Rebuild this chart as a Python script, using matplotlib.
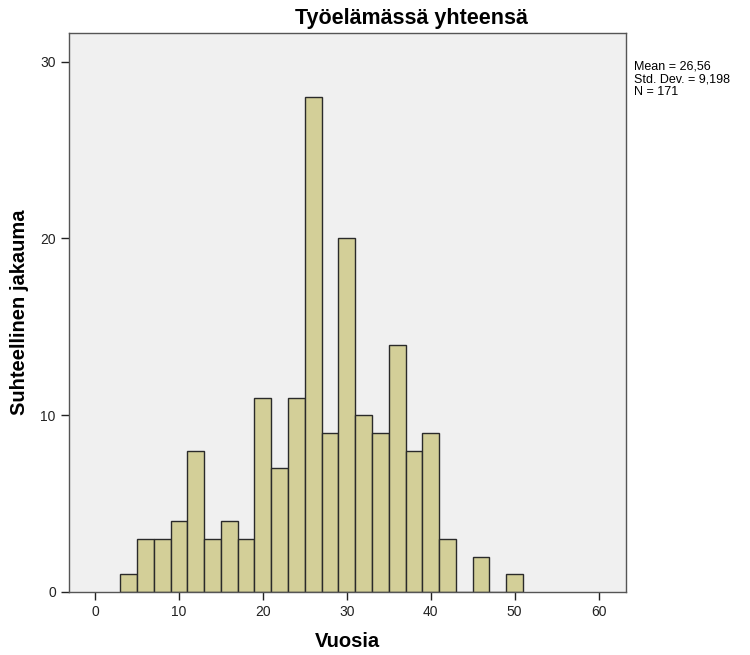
import numpy as np
import matplotlib.pyplot as plt

plt.rcParams['font.family'] = ['Liberation Sans', 'DejaVu Sans']

# bin edges (years) and counts per bin
bin_edges = np.arange(3, 53, 2)
counts = [1, 3, 3, 4, 8, 3, 4, 3, 11, 7, 11, 28, 9, 20, 10, 9, 14, 8, 9, 3, 0, 2, 0, 1]
stats_text = "Mean = 26,56\nStd. Dev. = 9,198\nN = 171"

fig = plt.figure(figsize=(7.5, 6.55), dpi=100)
ax = fig.add_axes([0.092, 0.0962, 0.743, 0.8538])
ax.set_facecolor('#f0f0f0')

ax.bar(bin_edges[:-1], counts, width=2, align='edge',
       color='#d3cf98', edgecolor='#2a2a2a', linewidth=1.0, zorder=2)

ax.set_xlim(-3.1, 63.3)
ax.set_ylim(0, 31.64)
ax.set_xticks([0, 10, 20, 30, 40, 50, 60])
ax.set_yticks([0, 10, 20, 30])
ax.tick_params(direction='out', length=6, width=1, labelsize=10, colors='#222222')
for sp in ax.spines.values():
    sp.set_color('#555555')
    sp.set_linewidth(1)

# title is centred over the whole chart, not just the axes
fig.text(0.549, 0.955, 'Työelämässä yhteensä', fontsize=15.5, fontweight='bold',
         ha='center', va='bottom')
ax.set_xlabel('Vuosia', fontsize=14.5, fontweight='bold', labelpad=9)
ax.set_ylabel('Suhteellinen jakauma', fontsize=14.5, fontweight='bold', labelpad=8)

fig.text(0.845, 0.908, stats_text, fontsize=9, va='top', ha='left', linespacing=1.1)

fig.savefig('out.png', dpi=100)
